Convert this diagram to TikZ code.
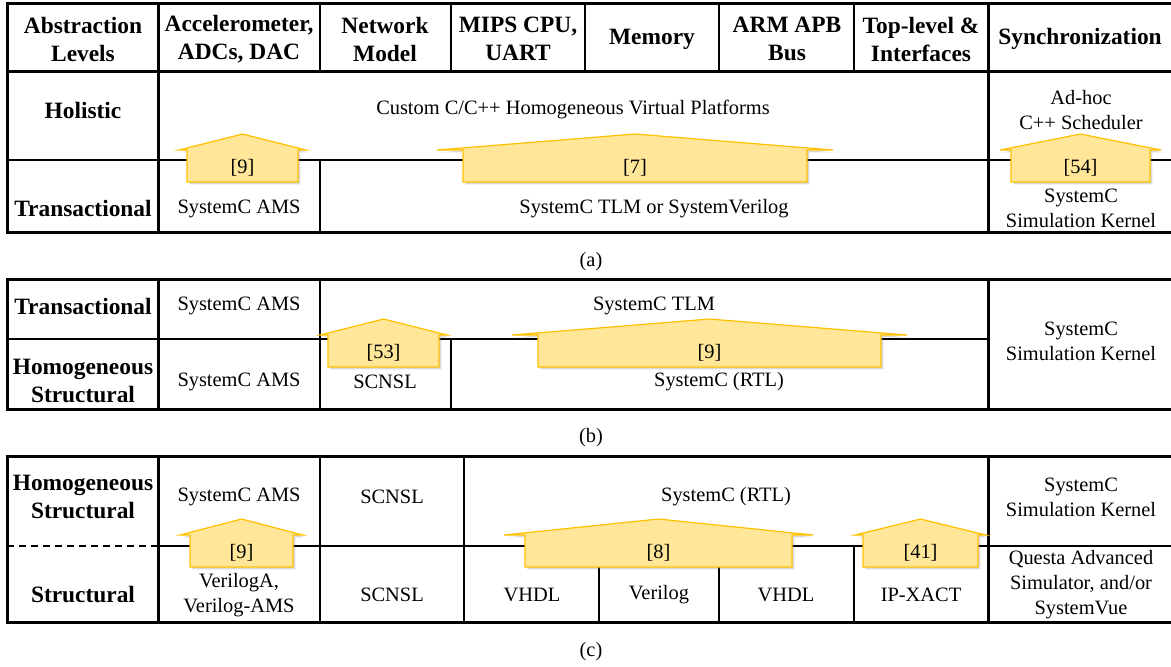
\documentclass[tikz,border=0pt]{standalone}
\usepackage{fontspec}
\setmainfont{Liberation Serif}
\usetikzlibrary{shadows}
\definecolor{roofFill}{HTML}{FFE699}
\definecolor{roofLine}{HTML}{FFC000}
\newcommand{\roofbox}[6]{%
  \filldraw[roof] (#2,#5+48) -- (#2,#5+16) -- (#2-#4,#5+16) -- ({(#2+#3)/2},#5)
    -- (#3+#4,#5+16) -- (#3,#5+16) -- (#3,#5+48) -- cycle;
  \node[cell] (#1) at ({(#2+#3)/2},#5+34) {#6};
}

\begin{document}
\begin{tikzpicture}[x=0.5pt,y=-0.5pt,
    rule/.style={line width=1.5pt,line cap=rect},
    hair/.style={line width=0.65pt},
    head/.style={font=\fontsize{11.7}{14}\selectfont\bfseries,align=center,inner sep=0pt},
    cell/.style={font=\fontsize{10.2}{12.5}\selectfont,align=center,inner sep=0pt},
    roof/.style={fill=roofFill,draw=roofLine,line width=0.6pt,
        drop shadow={shadow xshift=1.2pt,shadow yshift=-1.2pt,opacity=0.3}}]
    \useasboundingbox (0,0) rectangle (1171,666);

    % (a)
    \draw[hair] (7,160) -- (1171,160);
    \foreach \x in {320,451,585,719,854} \draw[hair] (\x,3) -- (\x,71);
    \draw[hair] (320,160) -- (320,232);
    \foreach \y in {3,71,232} \draw[rule] (7,\y) -- (1171,\y);
    \foreach \x in {7,158,988} \draw[rule] (\x,3) -- (\x,232);
    \node[head] (aLev) at (83,39) {Abstraction\\Levels};
    \node[head] (aAcc) at (239,39) {Accelerometer,\\ADCs, DAC};
    \node[head] (aNet) at (385,39) {Network\\Model};
    \node[head] (aCpu) at (518,39) {MIPS CPU,\\UART};
    \node[head] (aMem) at (652,39) {Memory};
    \node[head] (aBus) at (787,39) {ARM APB\\Bus};
    \node[head] (aTop) at (921,39) {Top-level \&\\Interfaces};
    \node[head] (aSyn) at (1080,39) {Synchronization};
    \node[head] (aHol) at (83,110) {Holistic};
    \node[head] (aTra) at (83,208) {Transactional};
    \node[cell] (aVp) at (573,110) {Custom C/C++ Homogeneous Virtual Platforms};
    \node[cell] (aSch) at (1081,110) {Ad-hoc\\C++ Scheduler};
    \node[cell] (aAms) at (239,209) {SystemC AMS};
    \node[cell] (aTlm) at (654,209) {SystemC TLM or SystemVerilog};
    \node[cell] (aKer) at (1081,208) {SystemC\\Simulation Kernel};
    \roofbox{aRefA}{187}{298}{8}{134}{[9]}
    \roofbox{aRefB}{463}{807}{26}{134}{[7]}
    \roofbox{aRefC}{1011}{1150}{11}{134}{[54]}
    \node[cell] (capA) at (591,262) {(a)};

    % (b)
    \draw[hair] (7,339) -- (988,339);
    \draw[hair] (320,279) -- (320,409);
    \draw[hair] (451,339) -- (451,409);
    \foreach \y in {279,409} \draw[rule] (7,\y) -- (1171,\y);
    \foreach \x in {7,158,988} \draw[rule] (\x,279) -- (\x,409);
    \node[head] (bTra) at (83,306) {Transactional};
    \node[head] (bHom) at (83,381) {Homogeneous\\Structural};
    \node[cell] (bAmsT) at (239,306) {SystemC AMS};
    \node[cell] (bAmsH) at (239,382) {SystemC AMS};
    \node[cell] (bTlm) at (654,306) {SystemC TLM};
    \node[cell] (bNsl) at (385,382) {SCNSL};
    \node[cell] (bRtl) at (719,382) {SystemC (RTL)};
    \node[cell] (bKer) at (1081,341) {SystemC\\Simulation Kernel};
    \roofbox{bRefA}{328}{439}{8}{319}{[53]}
    \roofbox{bRefB}{538}{881}{26}{319}{[9]}
    \node[cell] (capB) at (591,438) {(b)};

    % (c)
    \draw[hair,dash pattern=on 3.5pt off 2.5pt] (7,546) -- (158,546);
    \draw[hair] (158,546) -- (1171,546);
    \foreach \x in {320,464} \draw[hair] (\x,456) -- (\x,622);
    \foreach \x in {599,719,854} \draw[hair] (\x,546) -- (\x,622);
    \foreach \y in {456,622} \draw[rule] (7,\y) -- (1171,\y);
    \foreach \x in {7,158,988} \draw[rule] (\x,456) -- (\x,622);
    \node[head] (cHom) at (83,497) {Homogeneous\\Structural};
    \node[head] (cStr) at (83,595) {Structural};
    \node[cell] (cAms) at (239,497) {SystemC AMS};
    \node[cell] (cNslH) at (392,497) {SCNSL};
    \node[cell] (cRtl) at (726,497) {SystemC (RTL)};
    \node[cell] (cKer) at (1081,497) {SystemC\\Simulation Kernel};
    \node[cell] (cVa) at (239,595) {VerilogA,\\Verilog-AMS};
    \node[cell] (cNslS) at (392,595) {SCNSL};
    \node[cell] (cVhA) at (532,595) {VHDL};
    \node[cell] (cVer) at (659,595) {Verilog};
    \node[cell] (cVhB) at (786,595) {VHDL};
    \node[cell] (cIp) at (921,595) {IP-XACT};
    \node[cell] (cQue) at (1081,585) {Questa Advanced\\Simulator, and/or\\SystemVue};
    \roofbox{cRefA}{190}{293}{10}{519}{[9]}
    \roofbox{cRefB}{525}{792}{21}{519}{[8]}
    \roofbox{cRefC}{863}{978}{8}{519}{[41]}
    \node[cell] (capC) at (591,652) {(c)};
\end{tikzpicture}
\end{document}
